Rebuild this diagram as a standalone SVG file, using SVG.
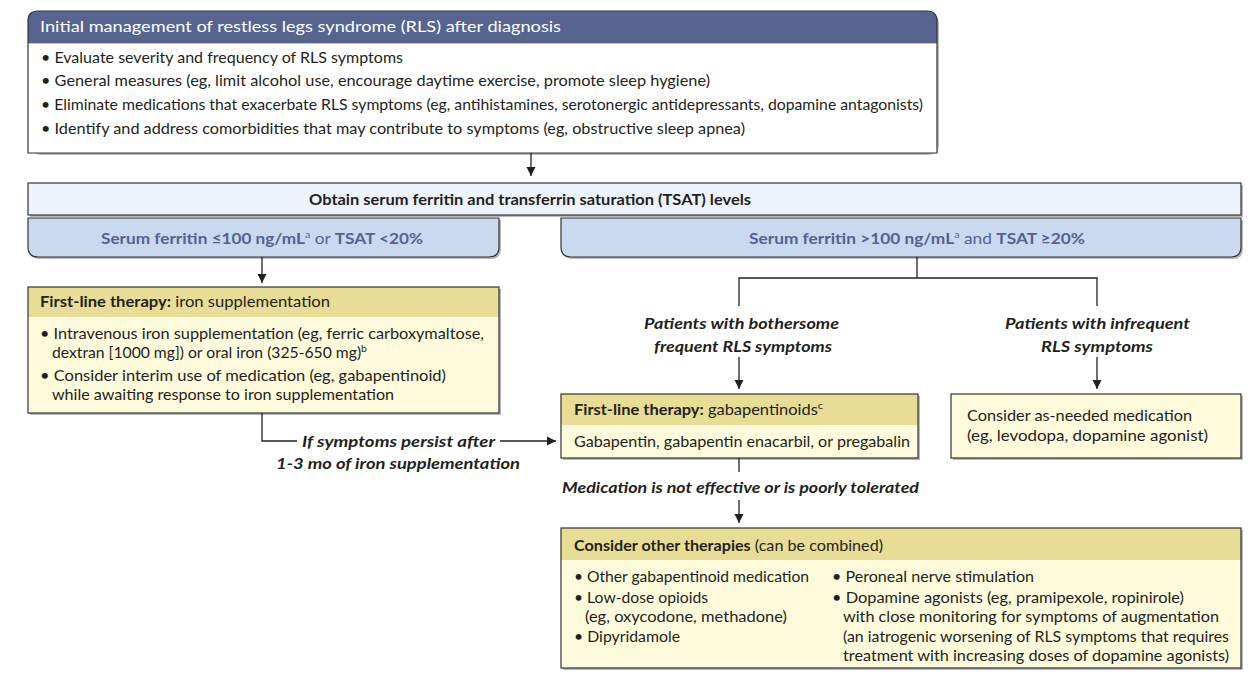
<svg xmlns="http://www.w3.org/2000/svg" width="1248" height="673" viewBox="0 0 1248 673">
<defs>
<marker id="arr" markerWidth="10" markerHeight="10" refX="9" refY="5" orient="auto" markerUnits="userSpaceOnUse">
<path d="M0,0.5 L9,5 L0,9.5 Z" fill="#231f20"/>
</marker>
<style>
text{font-family:Lato,"Open Sans","Liberation Sans",sans-serif;font-size:15px;fill:#231f20}
.b{font-weight:bold}
.w{fill:#ffffff;font-size:16px}
.blue{fill:#55628f;font-size:16px}
.i{font-style:italic;font-weight:bold;font-size:16px}
.box{stroke:#333333;stroke-width:1.2}
.sh{fill:#b8b8b8}
.hdrb{fill:#56648f}
.hdry{fill:#e8dd94}
.bodyy{fill:#fefadc}
.lb{fill:#c9d9ef}
.ll{fill:#edf3fb}
.c{fill:none;stroke:#231f20;stroke-width:1.3}
.sup{font-size:10px}
</style>
</defs>

<g id="initial">
<rect class="sh" x="30" y="13" width="909" height="142" rx="10"/>
<path d="M28,153 V21 Q28,11 38,11 H927 Q937,11 937,21 V153 Z" fill="#ffffff"/>
<path class="hdrb" d="M28,43 V21 Q28,11 38,11 H927 Q937,11 937,21 V43 Z"/>
<line x1="28" y1="43.5" x2="937" y2="43.5" stroke="#b9c3dc" stroke-width="1"/>
<path class="box" fill="none" d="M28,153 V21 Q28,11 38,11 H927 Q937,11 937,21 V153 Z"/>
<text class="w" x="40" y="32" textLength="521" lengthAdjust="spacingAndGlyphs">Initial management of restless legs syndrome (RLS) after diagnosis</text>
<text x="41" y="63" textLength="362" lengthAdjust="spacingAndGlyphs">• Evaluate severity and frequency of RLS symptoms</text>
<text x="41" y="86" textLength="669" lengthAdjust="spacingAndGlyphs">• General measures (eg, limit alcohol use, encourage daytime exercise, promote sleep hygiene)</text>
<text x="41" y="110" textLength="882" lengthAdjust="spacingAndGlyphs">• Eliminate medications that exacerbate RLS symptoms (eg, antihistamines, serotonergic antidepressants, dopamine antagonists)</text>
<text x="41" y="134" textLength="704" lengthAdjust="spacingAndGlyphs">• Identify and address comorbidities that may contribute to symptoms (eg, obstructive sleep apnea)</text>
</g>

<g id="obtain">
<rect class="sh" x="30" y="185" width="1213" height="32"/>
<rect class="box ll" x="28" y="183" width="1213" height="32"/>
<text class="b" x="309" y="205" textLength="442" lengthAdjust="spacingAndGlyphs">Obtain serum ferritin and transferrin saturation (TSAT) levels</text>
</g>

<g id="low">
<path class="sh" d="M30,220 H501 V249 Q501,259 491,259 H40 Q30,259 30,249 Z"/>
<path class="box lb" d="M28,218 H499 V247 Q499,257 489,257 H38 Q28,257 28,247 Z"/>
<text class="blue" x="101" y="244" textLength="322" lengthAdjust="spacingAndGlyphs"><tspan class="b">Serum ferritin ≤100 ng/mL</tspan><tspan class="sup" dy="-6">a</tspan><tspan dy="6"> or </tspan><tspan class="b">TSAT &lt;20%</tspan></text>
</g>

<g id="high">
<path class="sh" d="M563,220 H1243 V249 Q1243,259 1233,259 H573 Q563,259 563,249 Z"/>
<path class="box lb" d="M561,218 H1241 V247 Q1241,257 1231,257 H571 Q561,257 561,247 Z"/>
<text class="blue" x="749" y="244" textLength="336" lengthAdjust="spacingAndGlyphs"><tspan class="b">Serum ferritin &gt;100 ng/mL</tspan><tspan class="sup" dy="-6">a</tspan><tspan dy="6"> and </tspan><tspan class="b">TSAT ≥20%</tspan></text>
</g>

<g id="iron">
<rect class="sh" x="30" y="289" width="471" height="126"/>
<rect class="bodyy" x="28" y="287" width="471" height="126"/>
<rect class="hdry" x="28" y="287" width="471" height="30"/>
<rect class="box" fill="none" x="28" y="287" width="471" height="126"/>
<text x="40" y="307" textLength="290" lengthAdjust="spacingAndGlyphs"><tspan class="b">First-line therapy:</tspan> iron supplementation</text>
<text x="40" y="339" textLength="444" lengthAdjust="spacingAndGlyphs">• Intravenous iron supplementation (eg, ferric carboxymaltose,</text>
<text x="52" y="358" textLength="315" lengthAdjust="spacingAndGlyphs">dextran [1000 mg]) or oral iron (325-650 mg)<tspan class="sup" dy="-6">b</tspan></text>
<text x="40" y="381" textLength="406" lengthAdjust="spacingAndGlyphs">• Consider interim use of medication (eg, gabapentinoid)</text>
<text x="52" y="400" textLength="342" lengthAdjust="spacingAndGlyphs">while awaiting response to iron supplementation</text>
</g>

<g id="gaba">
<rect class="sh" x="563" y="396" width="357" height="64"/>
<rect class="bodyy" x="561" y="394" width="357" height="64"/>
<rect class="hdry" x="561" y="394" width="357" height="31"/>
<rect class="box" fill="none" x="561" y="394" width="357" height="64"/>
<text x="574" y="415" textLength="249" lengthAdjust="spacingAndGlyphs"><tspan class="b">First-line therapy:</tspan> gabapentinoids<tspan class="sup" dy="-6">c</tspan></text>
<text x="574" y="447" textLength="336" lengthAdjust="spacingAndGlyphs">Gabapentin, gabapentin enacarbil, or pregabalin</text>
</g>

<g id="asneeded">
<rect class="sh" x="953" y="396" width="290" height="64"/>
<rect class="box bodyy" x="951" y="394" width="290" height="64"/>
<text x="967" y="421" textLength="225" lengthAdjust="spacingAndGlyphs">Consider as-needed medication</text>
<text x="967" y="441" textLength="241" lengthAdjust="spacingAndGlyphs">(eg, levodopa, dopamine agonist)</text>
</g>

<g id="other">
<rect class="sh" x="563" y="530" width="680" height="140"/>
<rect class="bodyy" x="561" y="528" width="680" height="140"/>
<rect class="hdry" x="561" y="528" width="680" height="32"/>
<rect class="box" fill="none" x="561" y="528" width="680" height="140"/>
<text x="574" y="551" textLength="309" lengthAdjust="spacingAndGlyphs"><tspan class="b">Consider other therapies</tspan> (can be combined)</text>
<text x="574" y="582" textLength="235" lengthAdjust="spacingAndGlyphs">• Other gabapentinoid medication</text>
<text x="574" y="603" textLength="134" lengthAdjust="spacingAndGlyphs">• Low-dose opioids</text>
<text x="585" y="622" textLength="202" lengthAdjust="spacingAndGlyphs">(eg, oxycodone, methadone)</text>
<text x="574" y="642" textLength="106" lengthAdjust="spacingAndGlyphs">• Dipyridamole</text>
<text x="832" y="582" textLength="202" lengthAdjust="spacingAndGlyphs">• Peroneal nerve stimulation</text>
<text x="832" y="603" textLength="352" lengthAdjust="spacingAndGlyphs">• Dopamine agonists (eg, pramipexole, ropinirole)</text>
<text x="843" y="622" textLength="376" lengthAdjust="spacingAndGlyphs">with close monitoring for symptoms of augmentation</text>
<text x="843" y="642" textLength="386" lengthAdjust="spacingAndGlyphs">(an iatrogenic worsening of RLS symptoms that requires</text>
<text x="843" y="661" textLength="386" lengthAdjust="spacingAndGlyphs">treatment with increasing doses of dopamine agonists)</text>
</g>

<g id="connectors">
<line class="c" x1="531" y1="153" x2="531" y2="176" marker-end="url(#arr)"/>
<line class="c" x1="262" y1="257" x2="262" y2="283" marker-end="url(#arr)"/>
<polyline class="c" points="262,413 262,441 297,441"/>
<line class="c" x1="500" y1="441" x2="556" y2="441" marker-end="url(#arr)"/>
<line class="c" x1="917" y1="257" x2="917" y2="278"/>
<polyline class="c" points="739,306 739,278 1097,278 1097,306"/>
<line class="c" x1="739" y1="357" x2="739" y2="389" marker-end="url(#arr)"/>
<line class="c" x1="1097" y1="357" x2="1097" y2="389" marker-end="url(#arr)"/>
<line class="c" x1="739" y1="458" x2="739" y2="472"/>
<line class="c" x1="739" y1="500" x2="739" y2="523" marker-end="url(#arr)"/>
<text class="i" x="302" y="447" textLength="193" lengthAdjust="spacingAndGlyphs">If symptoms persist after</text>
<text class="i" x="276" y="469" textLength="244" lengthAdjust="spacingAndGlyphs">1-3 mo of iron supplementation</text>
<text class="i" x="644" y="329" textLength="195" lengthAdjust="spacingAndGlyphs">Patients with bothersome</text>
<text class="i" x="654" y="352" textLength="178" lengthAdjust="spacingAndGlyphs">frequent RLS symptoms</text>
<text class="i" x="1005" y="329" textLength="185" lengthAdjust="spacingAndGlyphs">Patients with infrequent</text>
<text class="i" x="1041" y="352" textLength="112" lengthAdjust="spacingAndGlyphs">RLS symptoms</text>
<text class="i" x="562" y="493" textLength="357" lengthAdjust="spacingAndGlyphs">Medication is not effective or is poorly tolerated</text>
</g>
</svg>
